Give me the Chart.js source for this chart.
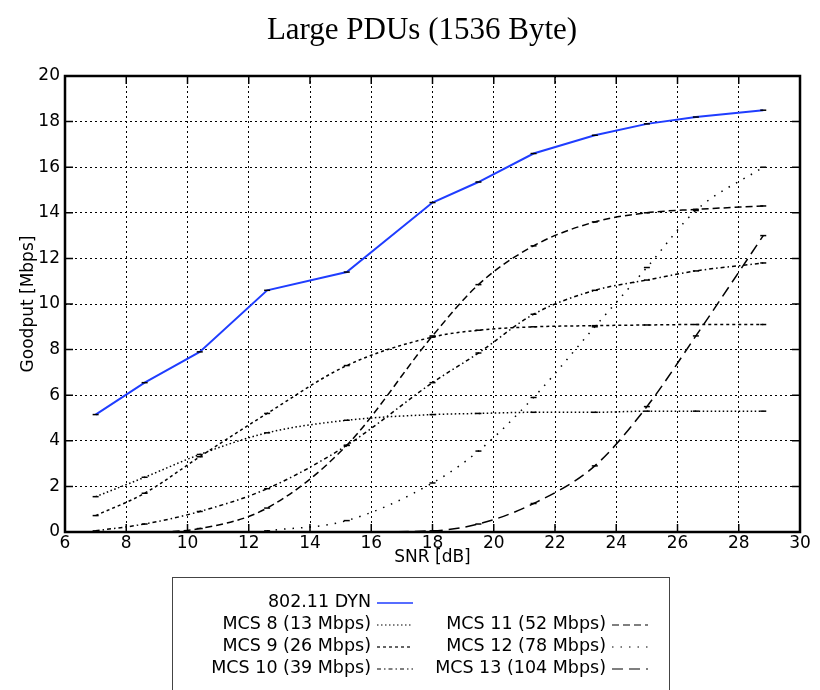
<!DOCTYPE html>
<html>
<head>
<meta charset="utf-8">
<script src="https://cdn.jsdelivr.net/npm/chart.js@4.4.1/dist/chart.umd.min.js"></script>
<style>
  html, body { margin: 0; padding: 0; background: #fff; }
</style>
</head>
<body>
<canvas id="goodput" width="820" height="690"></canvas>
<script>
// SNR points where goodput was measured (dB)
const snr = [7, 8.6, 10.4, 12.6, 15.2, 18, 19.5, 21.3, 23.3, 25, 26.6, 28.8];

// goodput values, Mbps
const dyn   = [5.15, 6.55, 7.9, 10.6, 11.4, 14.45, 15.35, 16.6, 17.4, 17.9, 18.2, 18.5];
const mcs8  = [1.55, 2.4, 3.4, 4.35, 4.9, 5.15, 5.2, 5.25, 5.25, 5.3, 5.3, 5.3];
const mcs9  = [0.72, 1.7, 3.3, 5.2, 7.3, 8.55, 8.85, 9.0, 9.05, 9.08, 9.1, 9.1];
const mcs10 = [0.05, 0.35, 0.9, 1.9, 3.8, 6.55, 7.85, 9.55, 10.6, 11.05, 11.45, 11.8];
const mcs11 = [0, 0, 0.15, 1.05, 3.8, 8.6, 10.85, 12.55, 13.6, 14.0, 14.15, 14.3];
const mcs12 = [null, null, null, 0.05, 0.5, 2.15, 3.55, 5.9, 9.0, 11.6, 14.1, 16.0];
const mcs13 = [null, null, null, null, 0, 0.05, 0.35, 1.25, 2.9, 5.5, 8.6, 13.0];

const xTicks = [6, 8, 10, 12, 14, 16, 18, 20, 22, 24, 26, 28, 30];
const yTicks = [0, 2, 4, 6, 8, 10, 12, 14, 16, 18, 20];

const chartTitle = 'Large PDUs (1536 Byte)';
const seriesLabels = [
    '802.11 DYN',
    'MCS 8 (13 Mbps)',
    'MCS 9 (26 Mbps)',
    'MCS 10 (39 Mbps)',
    'MCS 11 (52 Mbps)',
    'MCS 12 (78 Mbps)',
    'MCS 13 (104 Mbps)'
];

const BLUE = '#1f3dff';
const FONT = 'DejaVu Sans';

function points(vals) {
    return snr.map(function (x, i) {
        return { x: x, y: vals[i] };
    });
}

function curve(label, vals, dash) {
    return {
        label: label,
        data: points(vals),
        borderColor: '#000',
        borderWidth: 1.5,
        borderDash: dash,
        cubicInterpolationMode: 'monotone',
        pointStyle: 'line',
        pointRadius: 3,
        pointBorderColor: '#000',
        pointBorderWidth: 1.5,
        spanGaps: false
    };
}

const data = {
    datasets: [
        {
            label: seriesLabels[0],
            data: points(dyn),
            borderColor: BLUE,
            borderWidth: 2,
            tension: 0,
            pointStyle: 'line',
            pointRadius: 3,
            pointBorderColor: '#000',
            pointBorderWidth: 1.5
        },
        curve(seriesLabels[1], mcs8, [1.5, 2.5]),
        curve(seriesLabels[2], mcs9, [3, 3]),
        curve(seriesLabels[3], mcs10, [4, 3, 1.5, 3]),
        curve(seriesLabels[4], mcs11, [7, 4]),
        curve(seriesLabels[5], mcs12, [1.5, 7]),
        curve(seriesLabels[6], mcs13, [11, 6])
    ]
};

// title, frame, inward ticks and the boxed legend below the plot
const decorations = {
    id: 'decorations',
    afterDraw: function (chart) {
        const ctx = chart.ctx;
        const a = chart.chartArea;
        const xs = chart.scales.x;
        const ys = chart.scales.y;
        ctx.save();

        ctx.font = '31px "Liberation Serif"';
        ctx.fillStyle = '#000';
        ctx.textAlign = 'center';
        ctx.textBaseline = 'middle';
        ctx.fillText(chartTitle, 422, 31);

        ctx.setLineDash([]);
        ctx.strokeStyle = '#000';
        ctx.lineWidth = 1.5;
        ctx.beginPath();
        xTicks.forEach(function (v) {
            const px = xs.getPixelForValue(v);
            ctx.moveTo(px, a.bottom); ctx.lineTo(px, a.bottom - 8);
            ctx.moveTo(px, a.top); ctx.lineTo(px, a.top + 8);
        });
        yTicks.forEach(function (v) {
            const py = ys.getPixelForValue(v);
            ctx.moveTo(a.left, py); ctx.lineTo(a.left + 8, py);
            ctx.moveTo(a.right, py); ctx.lineTo(a.right - 8, py);
        });
        ctx.stroke();
        ctx.lineWidth = 2.5;
        ctx.strokeRect(a.left, a.top, a.right - a.left, a.bottom - a.top);

        // legend
        ctx.lineWidth = 1;
        ctx.strokeStyle = '#444';
        ctx.strokeRect(172.5, 577.5, 497, 130);
        ctx.font = '17.5px "' + FONT + '"';
        ctx.fillStyle = '#000';
        ctx.textAlign = 'right';
        ctx.textBaseline = 'middle';
        const slots = [
            [371, 602], [371, 624], [371, 646], [371, 668],
            [606, 624], [606, 646], [606, 668]
        ];
        chart.data.datasets.forEach(function (ds, i) {
            const s = slots[i];
            ctx.fillText(ds.label, s[0], s[1]);
            ctx.save();
            ctx.strokeStyle = ds.borderColor;
            ctx.lineWidth = i === 0 ? 1.5 : 1.2;
            ctx.setLineDash(ds.borderDash || []);
            ctx.beginPath();
            ctx.moveTo(s[0] + 6, s[1] + 1);
            ctx.lineTo(s[0] + 42, s[1] + 1);
            ctx.stroke();
            ctx.restore();
        });
        ctx.restore();
    }
};

const config = {
    type: 'line',
    data: data,
    options: {
        responsive: false,
        animation: false,
        layout: { padding: { left: 0, right: 20, top: 76, bottom: 0 } },
        plugins: {
            legend: { display: false },
            tooltip: { enabled: false },
            title: { display: false }
        },
        scales: {
            x: {
                type: 'linear',
                min: 6,
                max: 30,
                afterFit: function (scale) { scale.height = 158; },
                ticks: {
                    stepSize: 2,
                    padding: 1,
                    color: '#000',
                    font: { family: FONT, size: 17 }
                },
                grid: { color: '#000', lineWidth: 1, drawTicks: false },
                border: { display: false, dash: [2, 3] },
                title: {
                    display: true,
                    text: 'SNR [dB]',
                    color: '#000',
                    font: { family: FONT, size: 17 },
                    padding: { top: 0, bottom: 122 }
                }
            },
            y: {
                min: 0,
                max: 20,
                afterFit: function (scale) { scale.width = 65; },
                ticks: {
                    stepSize: 2,
                    padding: 5,
                    color: '#000',
                    font: { family: FONT, size: 17 }
                },
                grid: { color: '#000', lineWidth: 1, drawTicks: false },
                border: { display: false, dash: [2, 3] },
                title: {
                    display: true,
                    text: 'Goodput [Mbps]',
                    color: '#000',
                    font: { family: FONT, size: 17 },
                    padding: { top: 18, bottom: 0 }
                }
            }
        }
    },
    plugins: [decorations]
};

const myChart = new Chart(document.getElementById('goodput'), config);
</script>
</body>
</html>
